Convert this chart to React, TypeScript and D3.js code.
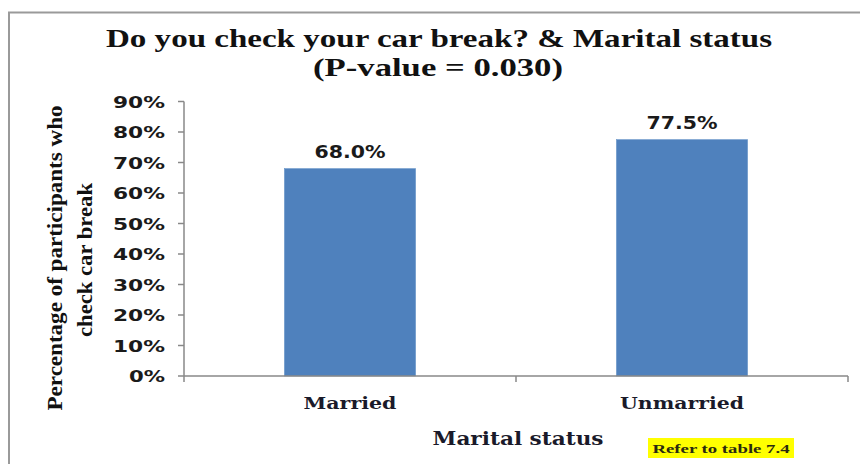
import React from "react";
import * as d3 from "d3";

const categories = ["Married", "Unmarried"];
const values = [0.68, 0.775];
const valueLabels = ["68.0%", "77.5%"];
const yTicks = [0, 0.1, 0.2, 0.3, 0.4, 0.5, 0.6, 0.7, 0.8, 0.9];
const titleLines = ["Do you check your car break? & Marital status", "(P-value = 0.030)"];
const yTitleLines = ["Percentage of participants who", "check car break"];
const xTitle = "Marital status";
const note = "Refer to table 7.4";

const W = 860;
const H = 464;
const left = 184;
const right = 848;
const top = 101.5;
const bottom = 376;

export default function App() {
  const x = d3.scaleBand<string>().domain(categories).range([left, right]).paddingInner(0.605).paddingOuter(0.3025);
  const y = d3.scaleLinear().domain([0, 0.9]).range([bottom, top]);
  const fmt = d3.format(".0%");
  const axisColor = "#888888";
  const serif = "'Liberation Serif', 'DejaVu Serif', serif";
  const serifWide = "'DejaVu Serif', serif";
  const sans = "'DejaVu Sans', Verdana, sans-serif";
  const catEdges = [left, (left + right) / 2, right];

  return (
    <svg width={W} height={H} style={{ position: "absolute", left: 0, top: 0, display: "block", background: "#fff" }}>
      <rect x={9} y={12.5} width={870} height={480} fill="#fff" stroke="#9a9a9a" strokeWidth={2} />
      {/* Title */}
      <text x={439} y={47} textAnchor="middle" fontFamily={serif} fontWeight="bold" fontSize={26} textLength={666} lengthAdjust="spacingAndGlyphs" fill="#111">
        {titleLines[0]}
      </text>
      <text x={438} y={76} textAnchor="middle" fontFamily={serif} fontWeight="bold" fontSize={26} textLength={250} lengthAdjust="spacingAndGlyphs" fill="#111">
        {titleLines[1]}
      </text>

      {/* Bars */}
      {categories.map((c, i) => (
        <rect key={c} x={x(c)} y={y(values[i])} width={x.bandwidth()} height={bottom - y(values[i])} fill="#4F81BD" stroke="#5b8bc4" strokeWidth={0.5} />
      ))}
      {/* Data labels */}
      {categories.map((c, i) => (
        <text key={c + "l"} x={(x(c) as number) + x.bandwidth() / 2} y={y(values[i]) - 11} textAnchor="middle" fontFamily={sans} fontWeight="bold" fontSize={17} textLength={71} lengthAdjust="spacingAndGlyphs" fill="#1a1a1a">
          {valueLabels[i]}
        </text>
      ))}

      {/* Y axis */}
      <line x1={left} x2={left} y1={top} y2={bottom} stroke={axisColor} strokeWidth={1.5} />
      {yTicks.map((t) => (
        <g key={t}>
          <line x1={left - 6} x2={left} y1={y(t)} y2={y(t)} stroke={axisColor} strokeWidth={1.5} />
          <text x={165} y={y(t) + 6} textAnchor="end" fontFamily={sans} fontWeight="bold" fontSize={16} textLength={t === 0 ? 36 : 52} lengthAdjust="spacingAndGlyphs" fill="#1a1a1a">
            {fmt(t)}
          </text>
        </g>
      ))}

      {/* X axis */}
      <line x1={left} x2={right} y1={bottom} y2={bottom} stroke={axisColor} strokeWidth={1.5} />
      {catEdges.map((e, i) => (
        <line key={i} x1={e} x2={e} y1={bottom} y2={bottom + 6} stroke={axisColor} strokeWidth={1.5} />
      ))}
      {categories.map((c) => (
        <text key={c + "x"} x={(x(c) as number) + x.bandwidth() / 2} y={409} textAnchor="middle" fontFamily={serifWide} fontWeight="bold" fontSize={17} textLength={c === "Married" ? 93 : 124} lengthAdjust="spacingAndGlyphs" fill="#1a1a2a">
          {c}
        </text>
      ))}
      <text x={518} y={445} textAnchor="middle" fontFamily={serifWide} fontWeight="bold" fontSize={18} textLength={171} lengthAdjust="spacingAndGlyphs" fill="#1a1a2a">
        {xTitle}
      </text>

      {/* Y title */}
      <g transform="translate(62,258) rotate(-90)">
        <text x={0} y={0} textAnchor="middle" fontFamily={serif} fontWeight="bold" fontSize={21} textLength={305} lengthAdjust="spacingAndGlyphs" fill="#111">
          {yTitleLines[0]}
        </text>
      </g>
      <g transform="translate(92,260) rotate(-90)">
        <text x={0} y={0} textAnchor="middle" fontFamily={serif} fontWeight="bold" fontSize={21} textLength={154} lengthAdjust="spacingAndGlyphs" fill="#111">
          {yTitleLines[1]}
        </text>
      </g>

      {/* Note */}
      <rect x={648} y={438} width={146} height={20} fill="#ffff00" />
      <text x={721} y={453} textAnchor="middle" fontFamily={serif} fontWeight="bold" fontSize={13} textLength={137} lengthAdjust="spacingAndGlyphs" fill="#2a2a10">
        {note}
      </text>
    </svg>
  );
}
